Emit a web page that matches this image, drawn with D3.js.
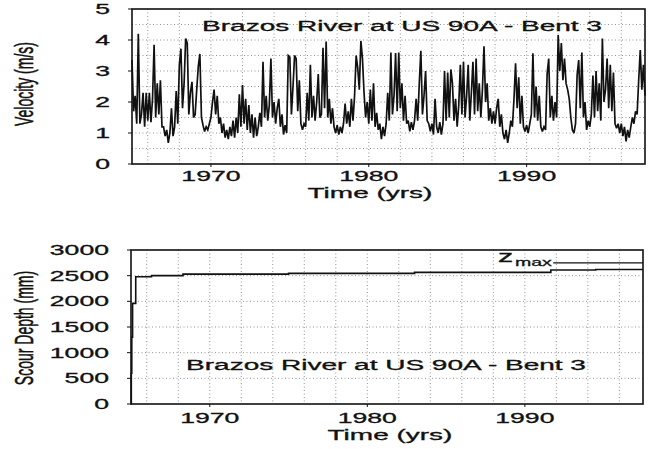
<!DOCTYPE html>
<html><head><meta charset="utf-8">
<script src="https://cdn.jsdelivr.net/npm/d3@7"></script>
<style>
html,body{margin:0;padding:0;background:#fff;}
svg{display:block;}
text{font-family:"Liberation Sans",Arial,Helvetica,sans-serif;fill:#111;stroke:#111;stroke-width:0.3px;}
</style></head>
<body>
<svg id="c" width="650" height="449"></svg>
<script>
// ---------- data ----------
const titleText = "Brazos River at US 90A - Bent 3";
const xTickYears = [1970, 1980, 1990];
const gridYears = [1966,1968,1970,1972,1974,1976,1978,1980,1982,1984,1986,1988,1990,1992,1994,1996];
const velTicks = [0,1,2,3,4,5];
const velGrid = [0.5,1,1.5,2,2.5,3,3.5,4,4.5];
const scourTicks = [0,500,1000,1500,2000,2500,3000];
const scourGrid = [500,1000,1500,2000,2500];

// velocity (m/s), sampled every 0.1 yr from 1965.0
const velStartYear = 1965.0, velStepYears = 0.1;
const velocity = [
 3.35,1.7,2.2,1.3,4.2,1.3,1.6,2.3,1.2,2.3,      // 1965
 1.4,2.3,1.35,2.1,3.85,1.5,2.6,1.6,2.7,1.2,     // 1966
 1.2,0.9,1.1,0.68,1.0,1.8,0.9,1.2,2.35,1.3,     // 1967
 3.2,3.72,1.8,2.6,4.05,3.9,1.6,2.3,2.65,1.5,    // 1968
 1.6,2.4,3.15,3.55,1.5,1.25,1.05,1.2,1.1,1.3,   // 1969
 1.5,2.0,2.4,1.6,2.2,1.3,1.5,1.0,1.3,0.85,      // 1970
 1.1,0.8,1.2,0.9,1.4,0.85,1.5,1.0,2.25,1.2,     // 1971
 2.55,1.3,2.1,1.1,1.9,1.0,1.6,0.85,1.5,0.9,     // 1972
 1.2,1.65,1.2,3.3,1.5,2.2,1.4,1.9,3.4,1.5,      // 1973
 2.0,1.3,1.8,2.1,1.2,1.6,0.95,1.25,1.0,3.5,     // 1974
 3.45,1.6,2.5,3.5,3.4,1.7,2.7,1.3,1.1,1.3,      // 1975
 1.2,2.3,1.4,3.2,1.5,2.2,1.4,2.0,2.9,1.5,       // 1976
 1.6,3.75,1.8,3.95,1.5,2.1,1.3,1.8,1.2,1.0,     // 1977
 1.25,0.95,1.2,1.0,1.3,1.95,1.3,1.7,1.2,2.1,    // 1978
 1.4,2.2,3.5,3.1,2.4,3.97,3.4,2.3,1.5,2.0,      // 1979
 1.3,2.4,1.4,2.6,1.2,1.65,1.1,1.3,0.8,1.2,      // 1980
 0.9,1.3,2.3,1.4,3.6,1.6,2.2,3.58,1.7,3.6,      // 1981
 1.8,2.6,1.4,2.2,1.3,1.4,1.05,1.35,1.1,1.4,     // 1982
 2.1,1.4,2.6,3.65,1.6,2.2,3.0,1.4,1.3,1.05,     // 1983
 1.3,0.95,2.1,1.2,1.0,1.35,0.95,1.3,3.0,1.4,    // 1984
 2.95,1.5,3.05,2.6,1.4,2.1,1.2,1.9,3.2,1.6,     // 1985
 3.3,1.5,2.2,3.2,1.4,2.3,3.3,1.6,3.4,1.7,       // 1986
 2.6,1.5,2.4,3.8,2.0,2.6,1.4,1.8,1.3,1.7,       // 1987
 1.3,1.8,2.1,1.2,1.6,1.0,0.8,1.1,0.68,1.0,      // 1988
 1.4,1.2,2.1,3.25,1.8,2.8,1.3,2.2,1.2,1.05,     // 1989
 1.25,1.0,1.3,1.6,3.57,1.5,2.5,1.4,2.2,1.2,     // 1990
 1.05,1.2,1.1,2.9,3.4,1.5,2.2,1.4,2.0,1.5,      // 1991
 4.16,3.0,3.9,2.7,3.4,2.6,2.4,2.1,1.5,1.1,      // 1992
 1.0,1.3,2.87,3.35,1.8,3.6,1.5,2.0,1.1,1.4,     // 1993
 1.2,1.6,2.85,1.5,3.0,1.7,2.6,1.4,4.05,2.0,     // 1994
 2.4,3.4,1.8,3.2,1.7,2.95,1.3,1.15,1.3,1.0,     // 1995
 1.3,0.9,1.2,0.73,1.1,0.85,1.2,1.5,1.3,1.7,     // 1996
 1.6,2.7,3.68,2.4,3.2,2.2                       // 1997
];

// scour depth (mm), step values
const scourYears = [1965.0, 1965.02, 1965.05, 1965.1, 1965.3, 1966.3, 1968.3, 1975.0, 1983.0, 1991.65, 1994.5, 1997.5];
const scourDepth = [0, 600, 1300, 1960, 2480, 2500, 2530, 2545, 2565, 2610, 2620, 2620];
const zmaxValue = 2750, zmaxFromYear = 1991.8;

// ---------- drawing ----------
const svg = d3.select("#c");
const SX = 1.9;           // horizontal stretch of the scanned figure
const INK = "#111";

function label(x, y, str, size, sx, anchor) {
  return svg.append("text")
    .attr("transform", `translate(${x},${y}) scale(${sx},1)`)
    .attr("text-anchor", anchor || "middle")
    .attr("font-size", size)
    .text(str);
}
function vlabel(x, y, str, size) {
  return svg.append("text")
    .attr("transform", `translate(${x},${y}) scale(${SX},1) rotate(-90)`)
    .attr("text-anchor", "middle")
    .attr("font-size", size)
    .text(str);
}

function panel(cfg) {
  const x = d3.scaleLinear().domain([1965, 1997.5]).range([cfg.left, cfg.right]);
  const y = d3.scaleLinear().domain(cfg.yDomain).range([cfg.bottom, cfg.top]);
  const g = svg.append("g");
  g.selectAll(".gv").data(gridYears).join("line")
    .attr("x1", d => x(d)).attr("x2", d => x(d))
    .attr("y1", cfg.top).attr("y2", cfg.bottom)
    .attr("stroke", "#777").attr("stroke-width", 0.8).attr("stroke-dasharray", "1,2.5");
  g.selectAll(".gh").data(cfg.yGrid).join("line")
    .attr("x1", cfg.left).attr("x2", cfg.right)
    .attr("y1", d => y(d)).attr("y2", d => y(d))
    .attr("stroke", "#777").attr("stroke-width", 0.8).attr("stroke-dasharray", "1,2.5");
  g.append("rect").attr("x", cfg.left).attr("y", cfg.top)
    .attr("width", cfg.right - cfg.left).attr("height", cfg.bottom - cfg.top)
    .attr("fill", "none").attr("stroke", INK).attr("stroke-width", 1.6);
  g.selectAll(".ty").data(cfg.yTicks).join("line")
    .attr("x1", cfg.left - 4).attr("x2", cfg.left)
    .attr("y1", d => y(d)).attr("y2", d => y(d))
    .attr("stroke", INK).attr("stroke-width", 1);
  g.selectAll(".tx").data(xTickYears).join("line")
    .attr("x1", d => x(d)).attr("x2", d => x(d))
    .attr("y1", cfg.bottom).attr("y2", cfg.bottom + 3)
    .attr("stroke", INK).attr("stroke-width", 1);
  cfg.yTicks.forEach(v => label(cfg.left - 22, y(v) + 5, String(v), 14, SX, "end"));
  xTickYears.forEach(v => label(x(v), cfg.xLabelY, String(v), 14, SX, "middle"));
  return {x, y, g};
}

// ---- top: velocity ----
const velPanel = panel({left:132, right:645, top:9, bottom:164, yDomain:[0,5],
  yTicks: velTicks, yGrid: velGrid, xLabelY: 181});
const velLine = d3.line()
  .x((d, i) => velPanel.x(velStartYear + i * velStepYears))
  .y(d => velPanel.y(d));
velPanel.g.append("path").datum(velocity).attr("d", velLine)
  .attr("fill", "none").attr("stroke", INK).attr("stroke-width", 1.7)
  .attr("stroke-linejoin", "miter").attr("stroke-miterlimit", 3);
label(402, 30.5, titleText, 14, 2.0, "middle");
label(370, 198, "Time (yrs)", 14, 2.0, "middle");
vlabel(33, 84, "Velocity (m/s)", 14);

// ---- bottom: scour depth ----
const scourPanel = panel({left:131, right:643, top:250, bottom:404, yDomain:[0,3000],
  yTicks: scourTicks, yGrid: scourGrid, xLabelY: 423});
const scourLine = d3.line()
  .x((d, i) => scourPanel.x(scourYears[i]))
  .y(d => scourPanel.y(d))
  .curve(d3.curveStepAfter);
scourPanel.g.append("path").datum(scourDepth).attr("d", scourLine)
  .attr("fill", "none").attr("stroke", INK).attr("stroke-width", 1.6);
scourPanel.g.append("line")
  .attr("x1", scourPanel.x(zmaxFromYear)).attr("x2", scourPanel.x(1997.5))
  .attr("y1", scourPanel.y(zmaxValue)).attr("y2", scourPanel.y(zmaxValue))
  .attr("stroke", INK).attr("stroke-width", 1.2);
label(498, 262, "z", 16, SX, "start");
label(515, 266, "max", 11.5, 1.7, "start");
label(386, 370, titleText, 14, 2.0, "middle");
label(390, 440, "Time (yrs)", 14, 2.0, "middle");
vlabel(33, 328, "Scour Depth (mm)", 14);
</script>
</body></html>
